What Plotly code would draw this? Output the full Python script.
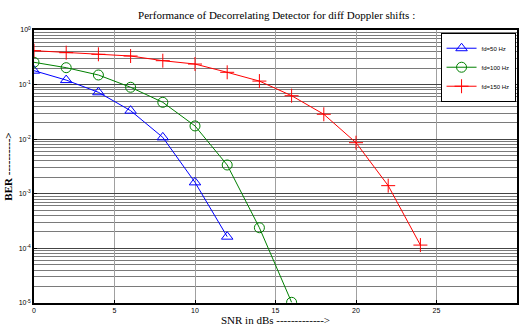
import plotly.graph_objects as go

snr_50 = [0, 2, 4, 6, 8, 10, 12]
ber_50 = [0.180, 0.121, 0.0723, 0.0333, 0.0108, 0.00162, 1.64e-4]

snr_100 = [0, 2, 4, 6, 8, 10, 12, 14, 16]
ber_100 = [0.256, 0.204, 0.150, 0.0893, 0.0474, 0.0175, 0.00337, 2.39e-4, 1.03e-5]

snr_150 = [0, 2, 4, 6, 8, 10, 12, 14, 16, 18, 20, 22, 24]
ber_150 = [0.418, 0.384, 0.359, 0.334, 0.274, 0.238, 0.168, 0.116, 0.0626,
           0.0286, 0.00863, 0.00141, 1.15e-4]

y_tickvals = [1, 1e-1, 1e-2, 1e-3, 1e-4, 1e-5]
y_ticktext = ["10<sup>0</sup>", "10<sup>-1</sup>", "10<sup>-2</sup>",
              "10<sup>-3</sup>", "10<sup>-4</sup>", "10<sup>-5</sup>"]
x_tickvals = [0, 5, 10, 15, 20, 25, 30]

fig = go.Figure()
fig.add_trace(go.Scatter(x=snr_50, y=ber_50, mode="lines+markers", name="fd=50 Hz",
                         line=dict(color="#0000ff", width=1),
                         marker=dict(symbol="triangle-up-open", size=10, color="#0000ff",
                                     line=dict(width=1))))
fig.add_trace(go.Scatter(x=snr_100, y=ber_100, mode="lines+markers", name="fd=100 Hz",
                         line=dict(color="#008000", width=1),
                         marker=dict(symbol="circle-open", size=10, color="#008000",
                                     line=dict(width=1))))
fig.add_trace(go.Scatter(x=snr_150, y=ber_150, mode="lines+markers", name="fd=150 Hz",
                         line=dict(color="#ff0000", width=1),
                         marker=dict(symbol="cross-thin-open", size=10, color="#ff0000",
                                     line=dict(width=1, color="#ff0000"))))

fig.update_layout(
    width=520, height=326,
    margin=dict(l=34, r=1, t=30, b=23),
    paper_bgcolor="white", plot_bgcolor="white",
    title=dict(text="Performance of Decorrelating Detector for diff Doppler shifts :",
               font=dict(family="Liberation Serif", size=11, color="black"),
               x=0.532, xanchor="center", y=0.955, yanchor="middle"),
    showlegend=True,
    legend=dict(x=0.997, y=0.99, xanchor="right", yanchor="top",
                bgcolor="white", bordercolor="black", borderwidth=1,
                font=dict(family="Liberation Sans", size=6, color="black"),
                itemwidth=30, tracegroupgap=0),
)
fig.update_xaxes(
    range=[0, 30], tickvals=x_tickvals,
    ticks="inside", ticklen=3, tickcolor="black",
    tickfont=dict(family="Liberation Sans", size=7, color="black"),
    showgrid=True, gridcolor="#a0a0a0", gridwidth=1,
    showline=True, linecolor="black", linewidth=1.5, mirror=True,
    zeroline=False,
    title=dict(text="SNR in dBs ------------->",
               font=dict(family="Liberation Serif", size=11, color="black"),
               standoff=2),
)
fig.update_yaxes(
    type="log", range=[-5, 0], tickvals=y_tickvals, ticktext=y_ticktext,
    ticks="inside", ticklen=3, tickcolor="black",
    tickfont=dict(family="Liberation Sans", size=7, color="black"),
    showgrid=True, gridcolor="#444444", gridwidth=1,
    minor=dict(dtick="D1", showgrid=True, gridcolor="#7a7a7a", ticks=""),
    showline=True, linecolor="black", linewidth=1.5, mirror=True,
    zeroline=False,
    title=dict(text="<b>BER ----------></b>",
               font=dict(family="Liberation Serif", size=11, color="black"),
               standoff=4),
)

fig.write_html("out.html")
